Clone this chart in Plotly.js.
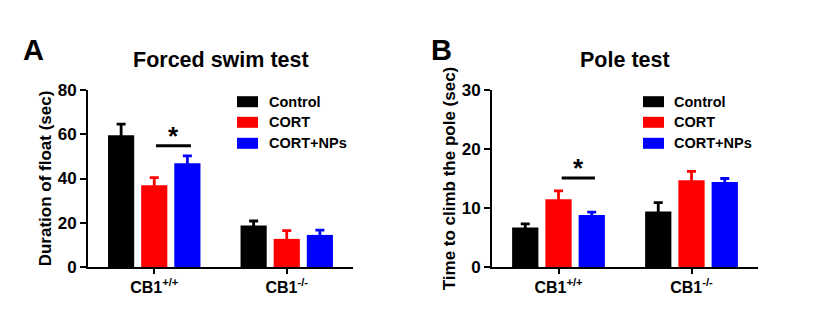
<!DOCTYPE html>
<html>
<head>
<meta charset="utf-8">
<script src="https://cdn.plot.ly/plotly-3.0.1.min.js"></script>
<style>html,body{margin:0;padding:0;background:#fff;}#chart{width:827px;height:316px;}</style>
</head>
<body>
<div id="chart"></div>
<script>
// ---- data ----
var groups = ['CB1<sup>+/+</sup>', 'CB1<sup>-/-</sup>'];
var seriesNames = ['Control', 'CORT', 'CORT+NPs'];
var seriesColors = ['#000000', '#ff0000', '#0000ff'];

// Panel A: Forced swim test, duration of float (sec)
var swimControl = [59.5, 18.8];
var swimControlErr = [5.1, 2.0];
var swimCort = [36.9, 12.7];
var swimCortErr = [3.5, 3.7];
var swimNps = [46.9, 14.5];
var swimNpsErr = [3.3, 2.2];

// Panel B: Pole test, time to climb the pole (sec)
var poleControl = [6.7, 9.4];
var poleControlErr = [0.6, 1.5];
var poleCort = [11.5, 14.7];
var poleCortErr = [1.4, 1.5];
var poleNps = [8.8, 14.4];
var poleNpsErr = [0.5, 0.6];

var swimTicks = [0, 20, 40, 60, 80];
var poleTicks = [0, 10, 20, 30];

// significance markers: [x0, x1, y] in data units
var swimSig = [0.013, 0.277, 54.8];
var poleSig = [0.024, 0.274, 15.1];

// ---- figure ----
var W = 827, H = 316;
function px(x) { return x / W; }
function py(y) { return 1 - y / H; }

var FONT = 'Liberation Sans, Arial, sans-serif';

var swimVals = [swimControl, swimCort, swimNps];
var swimErrs = [swimControlErr, swimCortErr, swimNpsErr];
var poleVals = [poleControl, poleCort, poleNps];
var poleErrs = [poleControlErr, poleCortErr, poleNpsErr];

var traces = [];
for (var i = 0; i < 3; i++) {
  traces.push({
    type: 'bar', x: groups, y: swimVals[i], name: seriesNames[i],
    xaxis: 'x', yaxis: 'y', showlegend: false,
    marker: {color: seriesColors[i], line: {width: 0}},
    error_y: {type: 'data', array: swimErrs[i], visible: true, color: seriesColors[i], thickness: 2.8, width: 4.5}
  });
}
for (var j = 0; j < 3; j++) {
  traces.push({
    type: 'bar', x: groups, y: poleVals[j], name: seriesNames[j],
    xaxis: 'x2', yaxis: 'y2', showlegend: false,
    marker: {color: seriesColors[j], line: {width: 0}},
    error_y: {type: 'data', array: poleErrs[j], visible: true, color: seriesColors[j], thickness: 2.8, width: 4.5}
  });
}

var xAxisCommon = {
  type: 'category', range: [-0.5, 1.5], showline: true, linecolor: '#000', linewidth: 2,
  ticks: 'outside', ticklen: 5, tickwidth: 2, tickcolor: '#000', showgrid: false, zeroline: false,
  tickfont: {family: FONT, size: 16, color: '#000', weight: 'bold'}, fixedrange: true
};
function yAxis(range, ticks, title, domain, anchor) {
  return {
    domain: domain, anchor: anchor, range: range, tickvals: ticks, ticktext: ticks.map(String),
    showline: true, linecolor: '#000', linewidth: 2, ticks: 'outside', ticklen: 6, tickwidth: 2, tickcolor: '#000',
    showgrid: false, zeroline: false,
    tickfont: {family: FONT, size: 17, color: '#000', weight: 'bold'},
    title: {text: title, font: {family: FONT, size: 17, color: '#000', weight: 'bold'}, standoff: 2}
  };
}

var yDom = [py(267), py(90)];
var layout = {
  width: W, height: H, margin: {l: 0, r: 0, t: 0, b: 0},
  paper_bgcolor: '#ffffff', plot_bgcolor: 'rgba(0,0,0,0)',
  barmode: 'group', bargap: 0.25, bargroupgap: 0.21,
  showlegend: false,
  xaxis: Object.assign({}, xAxisCommon, {domain: [px(88), px(353)], anchor: 'y'}),
  yaxis: yAxis([0, 80], swimTicks, 'Duration of float (sec)', yDom, 'x'),
  xaxis2: Object.assign({}, xAxisCommon, {domain: [px(492), px(758)], anchor: 'y2'}),
  yaxis2: yAxis([0, 30], poleTicks, 'Time to climb the pole (sec)', yDom, 'x2'),
  shapes: [
    {type: 'line', xref: 'x', yref: 'y', x0: swimSig[0], x1: swimSig[1], y0: swimSig[2], y1: swimSig[2], line: {color: '#000', width: 3}},
    {type: 'line', xref: 'x2', yref: 'y2', x0: poleSig[0], x1: poleSig[1], y0: poleSig[2], y1: poleSig[2], line: {color: '#000', width: 3}}
  ],
  annotations: [
    {text: 'A', x: px(21), y: py(32), xref: 'paper', yref: 'paper', xanchor: 'left', yanchor: 'top', showarrow: false,
     font: {family: FONT, size: 29, color: '#000', weight: 'bold'}},
    {text: 'B', x: px(429), y: py(32), xref: 'paper', yref: 'paper', xanchor: 'left', yanchor: 'top', showarrow: false,
     font: {family: FONT, size: 29, color: '#000', weight: 'bold'}},
    {text: 'Forced swim test', x: px(220.5), y: py(60), xref: 'paper', yref: 'paper', xanchor: 'center', yanchor: 'middle', showarrow: false,
     font: {family: FONT, size: 21.5, color: '#000', weight: 'bold'}},
    {text: 'Pole test', x: px(625), y: py(60), xref: 'paper', yref: 'paper', xanchor: 'center', yanchor: 'middle', showarrow: false,
     font: {family: FONT, size: 21.5, color: '#000', weight: 'bold'}},
    {text: '*', x: (swimSig[0] + swimSig[1]) / 2, y: swimSig[2], xref: 'x', yref: 'y', yanchor: 'bottom', yshift: -7, showarrow: false,
     font: {family: FONT, size: 26, color: '#000', weight: 'bold'}},
    {text: '*', x: (poleSig[0] + poleSig[1]) / 2, y: poleSig[2], xref: 'x2', yref: 'y2', yanchor: 'bottom', yshift: -7, showarrow: false,
     font: {family: FONT, size: 26, color: '#000', weight: 'bold'}}
  ]
};

// legends drawn as swatches + labels
var legendRows = [101.7, 122.3, 143.3];
var legendPanels = [{box: [237, 258], text: 267}, {box: [643, 664], text: 672}];
legendPanels.forEach(function (p) {
  for (var k = 0; k < seriesNames.length; k++) {
    layout.shapes.push({type: 'rect', xref: 'paper', yref: 'paper', x0: px(p.box[0]), x1: px(p.box[1]),
      y0: py(legendRows[k] + 5.5), y1: py(legendRows[k] - 5.5), fillcolor: seriesColors[k], line: {width: 0}});
    layout.annotations.push({text: seriesNames[k], x: px(p.text), y: py(legendRows[k]), xref: 'paper', yref: 'paper',
      xanchor: 'left', yanchor: 'middle', showarrow: false, font: {family: FONT, size: 14.5, color: '#000', weight: 'bold'}});
  }
});

Plotly.newPlot('chart', traces, layout, {displayModeBar: false, staticPlot: true});
</script>
</body>
</html>
